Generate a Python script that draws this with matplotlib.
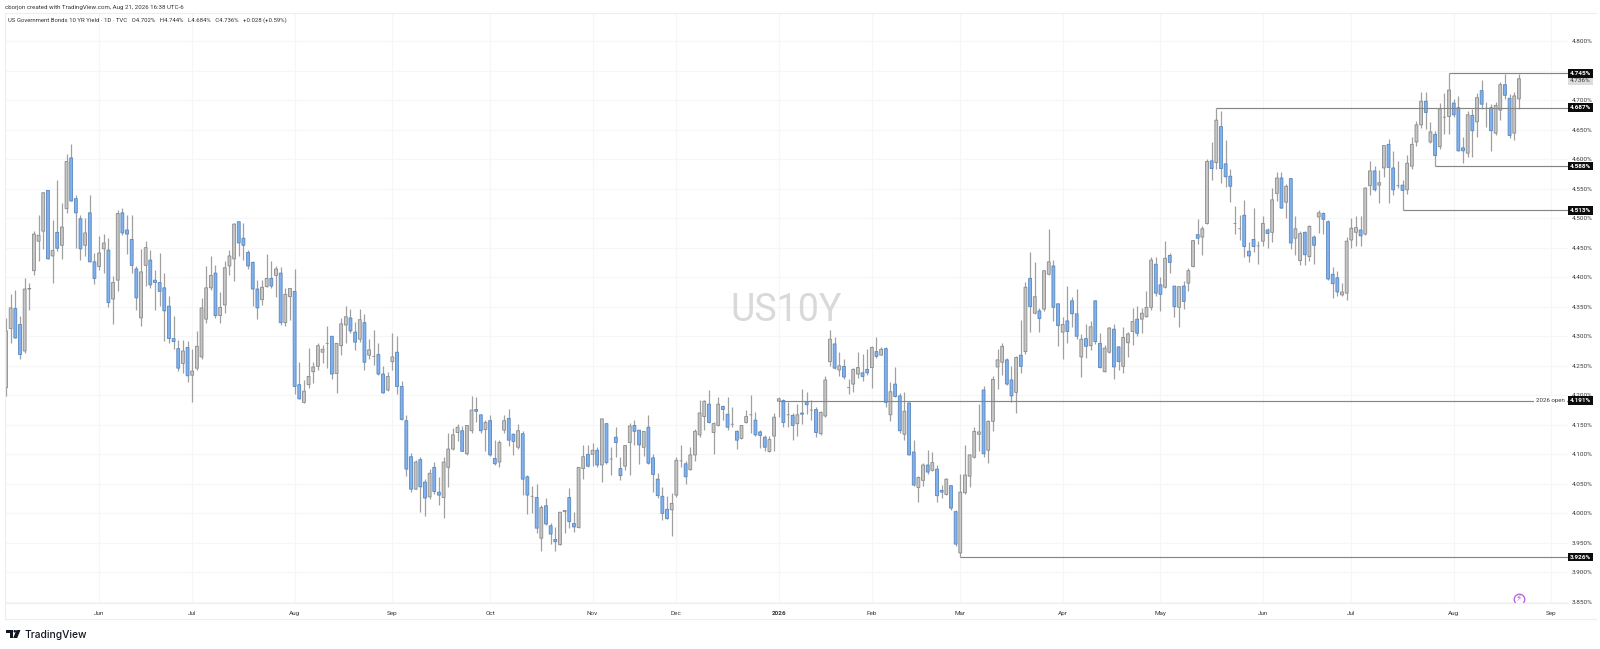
import numpy as np
import matplotlib
matplotlib.use("Agg")
import matplotlib.pyplot as plt
from matplotlib.patches import Rectangle, Polygon, Circle
from matplotlib.lines import Line2D
from matplotlib.transforms import Affine2D

plt.rcParams['font.family'] = ['Roboto', 'DejaVu Sans']

# daily candles of the 10 year yield
opens = [
4.213,4.313,4.347,4.320,4.275,4.380,4.411,4.461,4.478,4.547,
4.436,4.476,4.454,4.516,4.602,4.533,4.499,4.454,4.509,4.426,
4.418,4.448,4.446,4.363,4.395,4.509,4.480,4.464,4.414,4.331,
4.420,4.429,4.395,4.391,4.382,4.351,4.296,4.279,4.254,4.281,
4.234,4.246,4.265,4.329,4.382,
4.407,4.335,4.353,4.419,4.431,4.494,4.466,4.442,4.425,4.380,
4.362,4.384,4.398,4.403,4.407,4.323,4.367,4.376,4.218,4.188,
4.218,4.240,4.249,4.273,4.288,4.300,4.237,4.284,4.319,4.331,
4.307,4.295,4.323,4.268,4.266,4.269,4.236,4.209,4.257,4.273,
4.215,4.157,4.096,4.041,4.091,
4.053,4.028,4.078,4.036,4.027,4.078,4.109,4.137,4.140,4.101,
4.140,4.176,4.167,4.142,4.157,4.093,4.087,4.141,4.161,4.134,
4.112,4.135,4.062,4.029,4.027,3.958,4.013,3.979,3.956,3.947,
4.003,4.027,3.983,3.976,4.076,4.100,4.100,4.107,4.082,4.152,
4.092,4.129,4.076,4.080,4.120,
4.149,4.141,4.112,4.146,4.094,4.058,4.029,4.007,4.006,4.031,
4.089,4.084,4.074,4.099,4.133,4.164,4.185,4.137,4.149,4.181,
4.168,4.151,4.139,4.127,4.154,4.167,4.158,4.138,4.129,4.105,
4.131,4.190,4.191,4.167,4.166,4.152,4.170,4.189,4.175,4.176,
4.135,4.165,4.257,4.287,4.243,
4.249,4.213,4.219,4.236,4.238,4.244,4.247,4.274,4.268,4.279,
4.167,4.219,4.199,4.134,4.187,4.104,4.044,4.056,4.082,4.073,
4.075,4.039,4.032,4.047,4.003,3.933,4.035,4.063,4.095,4.134,
4.209,4.107,4.156,4.248,4.256,4.260,4.226,4.205,4.268,4.274,
4.398,4.339,4.343,4.346,4.405,
4.419,4.355,4.307,4.326,4.360,4.338,4.265,4.296,4.284,4.360,
4.288,4.240,4.273,4.312,4.282,4.249,4.289,4.308,4.329,4.329,
4.333,4.349,4.422,4.387,4.383,4.437,4.385,4.349,4.385,4.390,
4.418,4.472,4.468,4.491,4.597,4.594,4.655,4.592,4.571,4.491,
4.482,4.505,4.444,4.464,4.453,
4.461,4.480,4.476,4.542,4.568,4.527,4.567,4.466,4.428,4.476,
4.435,4.468,4.502,4.508,4.494,4.405,4.399,4.370,4.373,4.463,
4.476,4.480,4.473,4.555,4.580,4.556,4.585,4.625,4.585,4.555,
4.556,4.548,4.588,4.629,4.658,4.698,4.629,4.642,4.621,4.671,
4.672,4.695,4.687,4.619,4.610,4.674,4.663,4.716,4.686,4.687,
4.644,4.683,4.726,4.703,4.644,4.702]
closes = [
4.309,4.348,4.297,4.269,4.380,4.381,4.473,4.471,4.543,4.431,
4.445,4.449,4.485,4.596,4.529,4.509,4.448,4.475,4.426,4.398,
4.441,4.458,4.357,4.391,4.508,4.475,4.473,4.420,4.365,4.409,
4.450,4.387,4.391,4.376,4.343,4.296,4.291,4.246,4.275,4.233,
4.241,4.283,4.348,4.382,4.403,
4.335,4.349,4.416,4.436,4.490,4.458,4.454,4.419,4.380,4.348,
4.383,4.398,4.385,4.414,4.323,4.371,4.381,4.215,4.194,4.207,
4.232,4.248,4.284,4.278,4.288,4.236,4.288,4.321,4.333,4.309,
4.290,4.328,4.256,4.277,4.266,4.236,4.204,4.232,4.265,4.215,
4.159,4.075,4.041,4.087,4.045,
4.026,4.068,4.037,4.031,4.087,4.109,4.133,4.146,4.105,4.149,
4.175,4.173,4.140,4.154,4.099,4.084,4.120,4.157,4.124,4.122,
4.140,4.058,4.031,4.029,3.975,4.010,3.982,3.965,3.952,4.002,
4.005,3.986,3.977,4.078,4.096,4.080,4.107,4.082,4.160,4.086,
4.092,4.120,4.064,4.115,4.148,
4.139,4.116,4.139,4.085,4.066,4.030,4.000,3.991,4.017,4.090,
4.089,4.062,4.099,4.139,4.170,4.190,4.154,4.152,4.185,4.176,
4.146,4.151,4.124,4.149,4.164,4.167,4.133,4.132,4.112,4.125,
4.163,4.194,4.154,4.167,4.149,4.167,4.168,4.184,4.175,4.137,
4.171,4.226,4.295,4.246,4.250,
4.231,4.213,4.244,4.247,4.232,4.238,4.281,4.266,4.278,4.188,
4.206,4.198,4.140,4.173,4.099,4.048,4.061,4.082,4.070,4.086,
4.030,4.036,4.058,4.009,3.948,4.036,4.065,4.099,4.139,4.138,
4.101,4.156,4.227,4.260,4.283,4.219,4.199,4.264,4.249,4.383,
4.350,4.367,4.330,4.411,4.426,
4.349,4.318,4.320,4.308,4.338,4.300,4.295,4.283,4.316,4.291,
4.247,4.280,4.314,4.248,4.257,4.298,4.304,4.325,4.305,4.339,
4.349,4.429,4.373,4.371,4.432,4.425,4.350,4.384,4.359,4.411,
4.462,4.466,4.482,4.596,4.584,4.666,4.584,4.570,4.554,4.491,
4.482,4.452,4.436,4.452,4.453,
4.491,4.474,4.531,4.568,4.517,4.554,4.458,4.482,4.474,4.438,
4.486,4.454,4.509,4.498,4.397,4.389,4.375,4.375,4.461,4.483,
4.484,4.470,4.551,4.580,4.548,4.560,4.623,4.586,4.548,4.555,
4.547,4.593,4.625,4.658,4.698,4.679,4.646,4.606,4.685,4.671,
4.717,4.675,4.614,4.614,4.675,4.648,4.704,4.693,4.686,4.648,
4.691,4.726,4.708,4.640,4.707,4.736]
highs = [
4.331,4.371,4.378,4.335,4.398,4.391,4.478,4.505,4.545,4.547,
4.497,4.564,4.525,4.608,4.626,4.540,4.506,4.501,4.539,4.441,
4.470,4.474,4.467,4.402,4.514,4.517,4.506,4.505,4.419,4.448,
4.461,4.446,4.413,4.441,4.407,4.368,4.335,4.294,4.294,4.292,
4.278,4.309,4.364,4.419,4.436,
4.421,4.375,4.427,4.446,4.491,4.494,4.491,4.446,4.427,4.396,
4.396,4.440,4.428,4.419,4.418,4.381,4.381,4.414,4.256,4.226,
4.280,4.257,4.288,4.286,4.318,4.301,4.288,4.331,4.352,4.346,
4.324,4.346,4.338,4.295,4.311,4.288,4.249,4.240,4.305,4.300,
4.224,4.167,4.103,4.091,4.096,
4.058,4.076,4.087,4.061,4.095,4.137,4.144,4.151,4.148,4.149,
4.199,4.197,4.168,4.158,4.167,4.124,4.124,4.167,4.176,4.136,
4.151,4.139,4.065,4.047,4.050,4.014,4.026,3.983,3.977,4.003,
4.005,4.043,4.003,4.079,4.116,4.115,4.120,4.112,4.162,4.153,
4.112,4.147,4.095,4.116,4.153,
4.158,4.141,4.140,4.167,4.100,4.068,4.044,4.029,4.034,4.095,
4.115,4.088,4.112,4.143,4.192,4.192,4.209,4.154,4.197,4.184,
4.197,4.181,4.141,4.150,4.175,4.201,4.171,4.141,4.133,4.131,
4.170,4.197,4.193,4.188,4.170,4.186,4.210,4.206,4.192,4.181,
4.174,4.233,4.311,4.298,4.274,
4.262,4.227,4.247,4.273,4.270,4.279,4.283,4.298,4.281,4.281,
4.223,4.248,4.204,4.205,4.188,4.125,4.063,4.085,4.108,4.104,
4.082,4.048,4.060,4.048,4.005,4.067,4.116,4.101,4.147,4.185,
4.216,4.158,4.233,4.278,4.289,4.263,4.249,4.266,4.328,4.392,
4.443,4.426,4.347,4.413,4.481,
4.429,4.355,4.333,4.385,4.367,4.380,4.304,4.321,4.325,4.362,
4.305,4.285,4.315,4.321,4.284,4.316,4.307,4.347,4.352,4.347,
4.377,4.434,4.435,4.401,4.461,4.441,4.385,4.384,4.393,4.415,
4.463,4.499,4.487,4.601,4.629,4.687,4.682,4.633,4.583,4.520,
4.505,4.531,4.460,4.517,4.461,
4.503,4.483,4.551,4.579,4.579,4.558,4.568,4.504,4.478,4.479,
4.488,4.472,4.513,4.510,4.497,4.418,4.410,4.390,4.468,4.500,
4.504,4.504,4.552,4.596,4.589,4.582,4.624,4.634,4.613,4.597,
4.564,4.607,4.637,4.665,4.713,4.713,4.663,4.647,4.695,4.712,
4.745,4.701,4.707,4.637,4.682,4.685,4.712,4.734,4.696,4.693,
4.696,4.731,4.744,4.711,4.713,4.744]
lows = [
4.198,4.289,4.297,4.262,4.271,4.345,4.403,4.427,4.447,4.431,
4.391,4.444,4.430,4.508,4.529,4.449,4.429,4.436,4.426,4.388,
4.413,4.407,4.350,4.321,4.376,4.471,4.440,4.407,4.344,4.317,
4.385,4.382,4.344,4.351,4.292,4.289,4.278,4.241,4.237,4.222,
4.188,4.243,4.261,4.323,4.379,
4.331,4.322,4.339,4.403,4.394,4.436,4.429,4.414,4.352,4.330,
4.353,4.384,4.381,4.367,4.319,4.317,4.328,4.202,4.193,4.187,
4.212,4.220,4.242,4.255,4.246,4.227,4.204,4.269,4.288,4.306,
4.277,4.291,4.242,4.262,4.252,4.234,4.204,4.207,4.243,4.203,
4.158,4.063,4.037,4.041,4.002,
3.996,4.024,4.033,4.014,3.993,4.044,4.107,4.123,4.105,4.099,
4.136,4.155,4.136,4.106,4.098,4.082,4.079,4.136,4.114,4.099,
4.109,4.031,3.999,4.001,3.966,3.937,3.981,3.948,3.937,3.946,
3.966,3.976,3.969,3.975,4.058,4.078,4.080,4.079,4.054,4.084,
4.065,4.096,4.056,4.074,4.065,
4.116,4.084,4.097,4.084,4.037,4.026,3.989,3.991,3.962,4.027,
4.079,4.050,4.074,4.088,4.130,4.141,4.153,4.100,4.148,4.158,
4.141,4.146,4.109,4.126,4.153,4.136,4.131,4.110,4.106,4.104,
4.105,4.164,4.147,4.147,4.124,4.131,4.152,4.168,4.158,4.130,
4.133,4.164,4.249,4.244,4.232,
4.227,4.202,4.206,4.229,4.225,4.235,4.212,4.263,4.268,4.181,
4.156,4.197,4.136,4.125,4.099,4.047,4.019,4.047,4.067,4.071,
4.019,4.026,4.032,4.005,3.945,3.926,4.033,4.044,4.094,4.105,
4.095,4.086,4.139,4.210,4.235,4.218,4.189,4.170,4.237,4.270,
4.308,4.338,4.308,4.343,4.404,
4.325,4.284,4.261,4.288,4.316,4.295,4.231,4.263,4.276,4.287,
4.246,4.240,4.271,4.227,4.243,4.238,4.265,4.285,4.301,4.305,
4.332,4.345,4.369,4.342,4.382,4.407,4.333,4.316,4.346,4.377,
4.417,4.456,4.437,4.490,4.564,4.584,4.559,4.553,4.527,4.474,
4.463,4.435,4.426,4.443,4.423,
4.453,4.449,4.459,4.529,4.517,4.500,4.447,4.437,4.421,4.420,
4.427,4.423,4.475,4.474,4.396,4.365,4.368,4.369,4.362,4.449,
4.453,4.453,4.472,4.540,4.546,4.525,4.569,4.525,4.540,4.551,
4.513,4.541,4.583,4.623,4.653,4.651,4.627,4.588,4.617,4.643,
4.643,4.672,4.613,4.593,4.604,4.603,4.638,4.685,4.655,4.613,
4.641,4.666,4.701,4.635,4.632,4.684]

# month labels on the time axis and the bar they sit on
month_bars = [20, 40, 62, 83, 104, 126, 144, 166, 186, 205, 227, 248, 270, 289, 311, 332]
month_names = ['Jun', 'Jul', 'Aug', 'Sep', 'Oct', 'Nov', 'Dec', '2026', 'Feb', 'Mar',
               'Apr', 'May', 'Jun', 'Jul', 'Aug', 'Sep']

# 4.750 sits under the 4.745 tag and is not shown
price_ticks = [4.80, 4.70, 4.65, 4.60, 4.55, 4.50, 4.45, 4.40, 4.35, 4.30, 4.25,
               4.20, 4.15, 4.10, 4.05, 4.00, 3.95, 3.90, 3.85]
grid_prices = price_ticks + [4.75]

# drawn levels: price, bar they start from
levels = [4.745, 4.687, 4.588, 4.513, 4.191, 3.926]
level_bars = [310, 260, 307, 300, 166, 205]
last_close = 4.736

W, H = 1600, 649
fig = plt.figure(figsize=(W / 100, H / 100), dpi=100, facecolor='white')

# the plot panel, laid out in picture pixels
left, right, top, bottom = 5, 1568, 13, 603
ax = fig.add_axes([left / W, 1 - bottom / H, (right - left) / W, (bottom - top) / H])
pitch = 4.655
ax.set_xlim((left - 6) / pitch, (right - 6) / pitch)
ax.set_ylim(4.8 - (bottom - 41) / 590.5, 4.8 + (41 - top) / 590.5)
for s in ax.spines.values():
    s.set_visible(False)

ax.set_yticks(price_ticks)
ax.set_yticklabels(['%.3f%%' % p for p in price_ticks])
ax.yaxis.tick_right()
ax.set_xticks(month_bars)
ax.set_xticklabels(month_names)
ax.tick_params(length=0, labelsize=4.6, labelcolor='#3a3a3a')
ax.tick_params(axis='y', pad=3)
ax.tick_params(axis='x', pad=5.5)
ax.get_xticklabels()[7].set_fontweight('bold')
ax.grid(True, axis='x', color='#f6f6f6', lw=0.8)
ax.hlines(grid_prices, *ax.get_xlim(), color='#f6f6f6', lw=0.8, zorder=0.5)
ax.set_axisbelow(True)

bars = np.arange(len(opens))
o = np.array(opens)
c = np.array(closes)
down = c < o
grey_fill = '#c6c6c6'
blue_fill = '#7fb2ee'

ax.vlines(bars, lows, highs, color='#a0a0a0', lw=0.9, zorder=2)
ax.bar(bars[~down], np.abs(c - o)[~down], bottom=np.minimum(o, c)[~down], width=0.62,
       facecolor=grey_fill, edgecolor='#8a8a8a', lw=0.6, zorder=3, snap=False)
ax.bar(bars[down], np.abs(c - o)[down], bottom=np.minimum(o, c)[down], width=0.62,
       facecolor=blue_fill, edgecolor='#5a86bc', lw=0.6, zorder=3, snap=False)

# horizontal levels and their price tags
xmax = ax.get_xlim()[1]
ytrans = ax.get_yaxis_transform()
tag_w = 25 / (right - left)
tag_h = 8.6 / 590.5
for lvl, bar in zip(levels, level_bars):
    ax.hlines(lvl, bar, xmax, color='#868686', lw=0.85, zorder=4)
    ax.add_patch(Rectangle((1, lvl - tag_h / 2), tag_w, tag_h, transform=ytrans, clip_on=False,
                           facecolor='#0c0c0c', edgecolor='none', zorder=6))
    ax.text(1 + tag_w / 2, lvl, '%.3f%%' % lvl, transform=ytrans, ha='center', va='center',
            color='white', fontsize=4.6, fontweight='bold', zorder=7, clip_on=False)

ax.add_patch(Rectangle((1, last_close - tag_h / 2 - 0.0025), tag_w, tag_h, transform=ytrans,
                       clip_on=False, facecolor='#dcdcdc', edgecolor='none', zorder=5))
ax.text(1 + tag_w / 2, last_close - 0.0025, '%.3f%%' % last_close, transform=ytrans, ha='center',
        va='center', color='#3a3a3a', fontsize=4.6, zorder=5.5, clip_on=False)

ax.text(1 - 3 / (right - left), 4.191, '2026 open', transform=ytrans, ha='right', va='center',
        fontsize=4.4, color='#3a3a3a', zorder=5,
        bbox=dict(facecolor='white', edgecolor='none', pad=1.5))

# watermark
ax.text(167.5, 4.344, 'US10Y', ha='center', va='center', fontsize=27, color='#d9d9d9', zorder=1)

# lightning mark near the last bar
ax.plot([325], [3.8556], 'o', ms=7.6, mfc='white', mec='#b65bd6', mew=0.9, zorder=5)
ax.text(325, 3.8556, '\u26a1', ha='center', va='center', fontsize=6.5, color='#b65bd6',
        family=['DejaVu Sans'], zorder=6)

# header texts
fig.text(5 / W, 1 - 7.5 / H, 'cborjon created with TradingView.com, Aug 21, 2026 16:38 UTC-6',
         fontsize=4.4, color='#333333', va='center')
fig.text(8.5 / W, 1 - 20.5 / H,
         'US Government Bonds 10 YR Yield \u00b7 1D \u00b7 TVC   O4.702%   H4.744%   L4.684%   C4.736%   +0.028 (+0.59%)',
         fontsize=4.35, color='#333333', va='center')

# frame lines, in pixels
px = Affine2D().scale(1 / W, -1 / H).translate(0, 1) + fig.transFigure
frame = '#eeeeee'
fig.add_artist(Line2D([5, 1596], [13, 13], transform=px, color=frame, lw=0.8))
fig.add_artist(Line2D([5, 5], [13, 618.5], transform=px, color=frame, lw=0.8))
fig.add_artist(Line2D([5, 1568], [603, 603], transform=px, color=frame, lw=0.8))
fig.add_artist(Line2D([5, 1596], [618.5, 618.5], transform=px, color=frame, lw=0.8))

# TradingView logo
logo = '#131722'
fig.add_artist(Polygon([(6, 630), (13, 630), (13, 638), (9.5, 638), (9.5, 633), (6, 633)],
                       transform=px, facecolor=logo, edgecolor='none'))
fig.add_artist(Circle((14.8, 631.3), 1.3, transform=px, facecolor=logo, edgecolor='none'))
fig.add_artist(Polygon([(16.5, 630), (20.5, 630), (17.2, 638), (13.2, 638)],
                       transform=px, facecolor=logo, edgecolor='none'))
fig.text(24.5 / W, 1 - 634.5 / H, 'TradingView', fontsize=7.4, color=logo, fontweight='medium',
         va='center', family=['Inter', 'DejaVu Sans'])

fig.savefig('out.png', dpi=100)
